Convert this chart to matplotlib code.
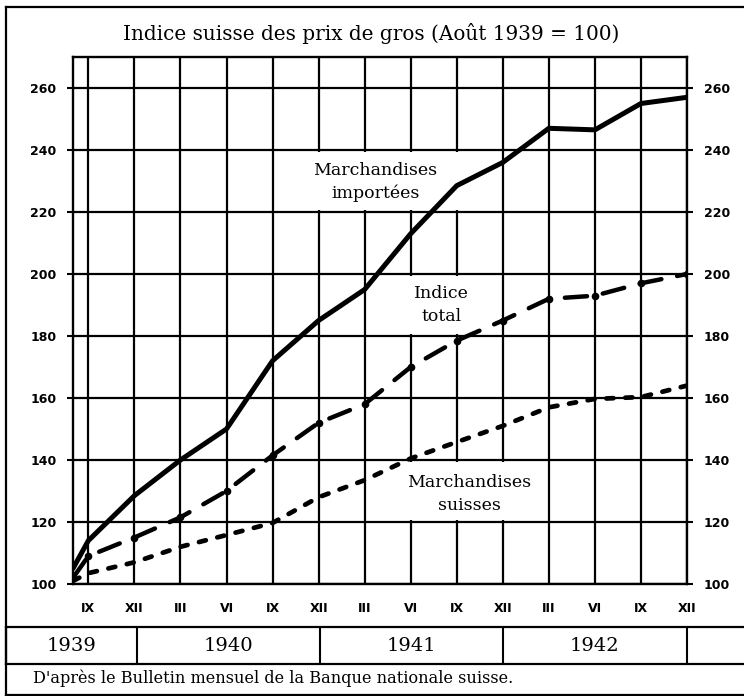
import matplotlib.pyplot as plt
from matplotlib.lines import Line2D
from matplotlib.patches import Rectangle

# months counted from August 1939 (= 0)
months = [0, 1, 4, 7, 10, 13, 16, 19, 22, 25, 28, 31, 34, 37, 40]
importees = [105, 114, 128.5, 140, 150, 172, 185, 195, 213, 228.5, 236, 247, 246.5, 255, 257]
total = [102, 109, 115, 121.5, 130, 141.5, 152, 158, 170, 178.5, 185, 192, 193, 197, 200]
suisses = [101, 103.5, 107, 112, 115.8, 119.7, 128, 133.5, 140.5, 145.8, 151, 157, 159.7, 160.3, 164]

month_ticks = [1, 4, 7, 10, 13, 16, 19, 22, 25, 28, 31, 34, 37, 40]
month_labels = ['IX', 'XII', 'III', 'VI', 'IX', 'XII', 'III', 'VI',
                'IX', 'XII', 'III', 'VI', 'IX', 'XII']
y_ticks = [100, 120, 140, 160, 180, 200, 220, 240, 260]
years = ['1939', '1940', '1941', '1942']
year_edges = [-4.36, 4.2, 16.1, 28, 40]

W, H = 744, 696
def fx(px):
    return px / W
def fy(py):
    return 1 - py / H

serif = 'DejaVu Serif'
sans = 'DejaVu Sans'

fig = plt.figure(figsize=(W / 100, H / 100), dpi=100)

ax = fig.add_axes([fx(73), fy(584), (687 - 73) / W, (584 - 57) / H])
ax.set_xlim(0, 40)
ax.set_ylim(100, 270)
ax.set_axisbelow(True)
ax.set_xticks(month_ticks)
ax.set_xticklabels(month_labels, fontfamily=sans, fontweight='bold', fontsize=9)
ax.set_yticks(y_ticks)
ax.set_yticklabels([str(v) for v in y_ticks], fontfamily=sans, fontweight='bold', fontsize=9)
ax.tick_params(axis='x', length=0, pad=13)
ax.tick_params(axis='y', left=True, right=True, labelleft=True, labelright=True,
               direction='out', length=4, width=1.5, pad=8)
ax.grid(True, color='black', linewidth=1.6)
for s in ax.spines.values():
    s.set_linewidth(1.7)

# white patches behind the curve labels
for (x0, x1, y0, y1) in [(13, 28, 220, 240), (19, 28, 180, 200), (19, 31, 120, 140)]:
    ax.add_patch(Rectangle((x0 + 0.15, y0 + 0.5), x1 - x0 - 0.3, y1 - y0 - 1.0,
                           facecolor='white', edgecolor='none', zorder=1))

ax.plot(months, importees, color='black', linewidth=3.6, solid_joinstyle='round',
        solid_capstyle='round', zorder=3)
ax.plot(months, total, color='black', linewidth=3.2, dashes=(5.0, 3.6),
        dash_capstyle='round', marker='o', markersize=4.5, zorder=3)
ax.plot(months, suisses, color='black', linewidth=3.4, dashes=(1.5, 2.5),
        dash_capstyle='round', zorder=3)

ax.text(19.7, 229.7, 'Marchandises\nimportées', ha='center', va='center',
        fontfamily=serif, fontsize=12.5, linespacing=1.45, zorder=4)
ax.text(24.0, 190.0, 'Indice\ntotal', ha='center', va='center',
        fontfamily=serif, fontsize=12.5, linespacing=1.45, zorder=4)
ax.text(25.8, 129.0, 'Marchandises\nsuisses', ha='center', va='center',
        fontfamily=serif, fontsize=12.5, linespacing=1.45, zorder=4)

fig.text(fx(371), fy(33), 'Indice suisse des prix de gros (Août 1939 = 100)',
         ha='center', va='center', fontfamily=serif, fontsize=14.4)

# year row
ay = fig.add_axes([fx(6), fy(664), (744 - 6) / W, (664 - 627) / H])
ay.set_xlim(-4.36, 43.71)
ay.set_ylim(0, 1)
ay.set_xticks([])
ay.set_yticks([])
ay.spines['right'].set_visible(False)
for s in ['top', 'bottom', 'left']:
    ay.spines[s].set_linewidth(1.6)
for e in year_edges[1:]:
    ay.axvline(e, color='black', linewidth=1.5)
for i, yr in enumerate(years):
    ay.text((year_edges[i] + year_edges[i + 1]) / 2, 0.48, yr, ha='center', va='center',
            fontfamily=serif, fontsize=14)

fig.text(fx(33), fy(678), "D'après le Bulletin mensuel de la Banque nationale suisse.",
         ha='left', va='center', fontfamily=serif, fontsize=11.6)

# outer frame
for xs, ys in [([6, 6], [7, 695]), ([6, 744], [7, 7]), ([6, 744], [695, 695])]:
    fig.add_artist(Line2D([fx(v) for v in xs], [fy(v) for v in ys],
                          color='black', linewidth=1.6))

fig.savefig('out.png', dpi=100)
